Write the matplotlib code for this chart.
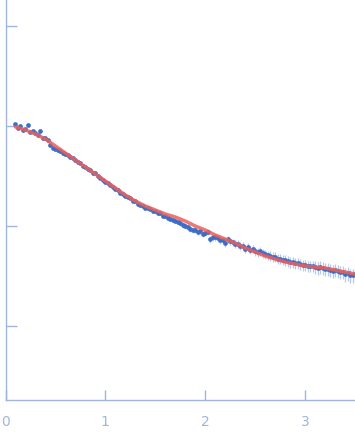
import numpy as np
import matplotlib
matplotlib.use("Agg")
import matplotlib.pyplot as plt

# experimental points: s (1/nm), log10 intensity, relative error
s_exp = [0.100, 0.125, 0.150, 0.175, 0.200, 0.225, 0.250, 0.275, 0.300, 0.325,
         0.350, 0.375, 0.400, 0.425, 0.450, 0.475, 0.500, 0.525, 0.550, 0.575,
         0.600, 0.625, 0.650, 0.675, 0.700, 0.725, 0.750, 0.775, 0.800, 0.825,
         0.850, 0.875, 0.900, 0.925, 0.950, 0.975, 1.000, 1.025, 1.050, 1.075,
         1.100, 1.125, 1.150, 1.175, 1.200, 1.225, 1.250, 1.275, 1.300, 1.325,
         1.350, 1.375, 1.400, 1.425, 1.450, 1.475, 1.500, 1.525, 1.550, 1.575,
         1.600, 1.625, 1.650, 1.675, 1.700, 1.725, 1.750, 1.775, 1.800, 1.825,
         1.850, 1.875, 1.900, 1.925, 1.950, 1.975, 2.000, 2.025, 2.050, 2.075,
         2.100, 2.125, 2.150, 2.175, 2.200, 2.225, 2.250, 2.275, 2.300, 2.325,
         2.350, 2.375, 2.400, 2.425, 2.450, 2.475, 2.500, 2.525, 2.550, 2.575,
         2.600, 2.625, 2.650, 2.675, 2.700, 2.725, 2.750, 2.775, 2.800, 2.825,
         2.850, 2.875, 2.900, 2.925, 2.950, 2.975, 3.000, 3.025, 3.050, 3.075,
         3.100, 3.125, 3.150, 3.175, 3.200, 3.225, 3.250, 3.275, 3.300, 3.325,
         3.350, 3.375, 3.400, 3.425, 3.450, 3.475, 3.500]
log_i_exp = [0.02, -0.02, 0.00, -0.04, -0.03, 0.01, -0.06, -0.05, -0.07, -0.09,
             -0.05, -0.12, -0.12, -0.14, -0.19, -0.22, -0.23, -0.24, -0.25, -0.27,
             -0.28, -0.29, -0.31, -0.32, -0.34, -0.36, -0.37, -0.40, -0.41, -0.43,
             -0.44, -0.47, -0.47, -0.50, -0.52, -0.54, -0.56, -0.57, -0.59, -0.61,
             -0.63, -0.64, -0.67, -0.68, -0.70, -0.71, -0.72, -0.75, -0.75, -0.78,
             -0.79, -0.80, -0.82, -0.82, -0.83, -0.85, -0.85, -0.87, -0.87, -0.90,
             -0.90, -0.92, -0.93, -0.94, -0.95, -0.96, -0.97, -0.99, -1.00, -1.01,
             -1.03, -1.04, -1.04, -1.06, -1.05, -1.08, -1.07, -1.06, -1.13, -1.11,
             -1.11, -1.12, -1.14, -1.14, -1.17, -1.13, -1.15, -1.16, -1.18, -1.18,
             -1.20, -1.20, -1.23, -1.21, -1.24, -1.23, -1.25, -1.26, -1.25, -1.27,
             -1.28, -1.29, -1.30, -1.31, -1.31, -1.33, -1.33, -1.34, -1.34, -1.35,
             -1.36, -1.36, -1.37, -1.37, -1.38, -1.39, -1.39, -1.40, -1.40, -1.40,
             -1.41, -1.42, -1.41, -1.42, -1.43, -1.43, -1.44, -1.45, -1.44, -1.45,
             -1.46, -1.46, -1.48, -1.47, -1.49, -1.49, -1.48]
err_rel = [0.01, 0.01, 0.01, 0.01, 0.01, 0.01, 0.01, 0.01, 0.01, 0.01,
           0.01, 0.01, 0.01, 0.01, 0.01, 0.01, 0.01, 0.01, 0.01, 0.01,
           0.02, 0.02, 0.02, 0.02, 0.02, 0.02, 0.02, 0.02, 0.02, 0.02,
           0.02, 0.02, 0.02, 0.02, 0.02, 0.02, 0.03, 0.03, 0.03, 0.03,
           0.03, 0.03, 0.03, 0.03, 0.03, 0.03, 0.03, 0.03, 0.04, 0.04,
           0.04, 0.04, 0.04, 0.04, 0.05, 0.05, 0.05, 0.05, 0.05, 0.05,
           0.05, 0.05, 0.05, 0.05, 0.05, 0.05, 0.06, 0.06, 0.06, 0.06,
           0.06, 0.06, 0.07, 0.07, 0.07, 0.07, 0.07, 0.07, 0.08, 0.08,
           0.08, 0.08, 0.08, 0.08, 0.08, 0.08, 0.08, 0.08, 0.09, 0.09,
           0.09, 0.09, 0.09, 0.09, 0.09, 0.09, 0.10, 0.10, 0.10, 0.10,
           0.10, 0.10, 0.11, 0.11, 0.11, 0.11, 0.11, 0.11, 0.12, 0.12,
           0.12, 0.12, 0.12, 0.12, 0.13, 0.13, 0.13, 0.13, 0.13, 0.13,
           0.14, 0.14, 0.14, 0.14, 0.14, 0.14, 0.15, 0.15, 0.15, 0.15,
           0.15, 0.15, 0.16, 0.16, 0.16, 0.16, 0.16]

# model fit
s_fit = [0.1, 0.2, 0.3, 0.4, 0.5, 0.6, 0.7, 0.8, 0.9, 1.0, 1.1, 1.2, 1.3, 1.4,
         1.5, 1.6, 1.7, 1.8, 1.9, 2.0, 2.1, 2.2, 2.3, 2.4, 2.5, 2.6, 2.7, 2.8,
         2.9, 3.0, 3.1, 3.2, 3.3, 3.4, 3.5]
log_i_fit = [-0.01, -0.04, -0.08, -0.13, -0.20, -0.27, -0.34, -0.41, -0.48,
             -0.55, -0.62, -0.69, -0.75, -0.80, -0.84, -0.88, -0.91, -0.95,
             -1.00, -1.04, -1.09, -1.13, -1.17, -1.22, -1.26, -1.30, -1.33,
             -1.36, -1.38, -1.40, -1.41, -1.42, -1.44, -1.46, -1.48]

x_ticks = [0, 1, 2, 3]
y_ticks = [10.0, 1.0, 0.1, 0.01]

AXIS_COL = "#9fb5dc"

i_exp = 10 ** np.array(log_i_exp)
i_err = i_exp * np.array(err_rel)
i_fit = 10 ** np.array(log_i_fit)

fig = plt.figure(figsize=(3.55, 4.38), dpi=100)
ax = fig.add_axes([5.5 / 355, 38 / 438, 1 - 5.5 / 355, 400 / 438])

ax.errorbar(s_exp, i_exp, yerr=i_err, fmt="none", ecolor="#b7c9ea",
            elinewidth=0.9, zorder=1)
ax.plot(s_exp, i_exp, "o", color="#3d6ec6", ms=3.4, mew=0, zorder=2)
ax.plot(s_fit, i_fit, "-", color="#ec5f5a", lw=2.5, alpha=0.85,
        solid_capstyle="round", zorder=3)

ax.set_yscale("log")
ax.set_xlim(0, 3.5)
ax.set_ylim(10 ** -2.74, 10 ** 1.26)
ax.set_xticks(x_ticks)
ax.set_xticklabels([str(t) for t in x_ticks])
ax.set_yticks(y_ticks)
ax.set_yticklabels([])
ax.yaxis.set_minor_locator(matplotlib.ticker.NullLocator())

for side in ["top", "right"]:
    ax.spines[side].set_visible(False)
for side in ["left", "bottom"]:
    ax.spines[side].set_color(AXIS_COL)
    ax.spines[side].set_linewidth(1.0)

ax.tick_params(axis="x", direction="in", length=7, width=1, color=AXIS_COL,
               labelcolor=AXIS_COL, labelsize=10, pad=11)
ax.tick_params(axis="y", direction="in", length=8, width=1, color=AXIS_COL)
ax.patch.set_alpha(0)

fig.savefig("out.png", dpi=100)
